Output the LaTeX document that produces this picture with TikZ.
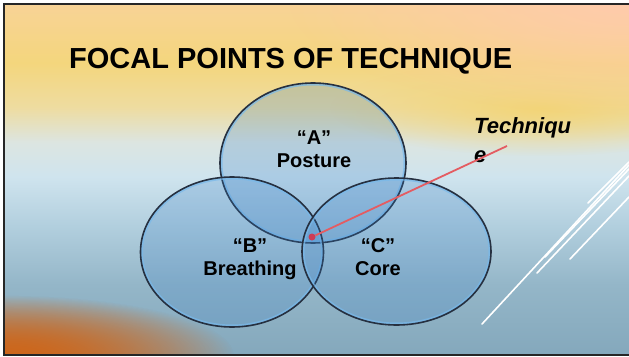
\documentclass[tikz,border=0pt]{standalone}
\usepackage{fontspec}
\setmainfont{Liberation Sans}
\usetikzlibrary{shapes.geometric,fadings}

\definecolor{bgTop}{RGB}{248,211,150}
\definecolor{bgA}{RGB}{244,214,125}
\definecolor{bgA2}{RGB}{238,220,160}
\definecolor{bgB}{RGB}{220,229,225}
\definecolor{bgC}{RGB}{207,228,238}
\definecolor{bgD}{RGB}{178,207,222}
\definecolor{bgE}{RGB}{148,182,200}
\definecolor{bgF}{RGB}{132,168,188}
\definecolor{peachc}{RGB}{255,203,172}
\definecolor{goldc}{RGB}{243,213,120}
\definecolor{rustc}{RGB}{205,103,28}
\definecolor{vennfill}{RGB}{60,130,200}
\definecolor{rimdark}{RGB}{38,48,64}
\definecolor{rimglowc}{RGB}{120,185,235}
\definecolor{pointerc}{RGB}{228,92,98}
\definecolor{dotc}{RGB}{205,60,85}

\pgfdeclareverticalshading{slidebg}{100bp}{color(0bp)=(bgF); color(25bp)=(bgF);
  color(35bp)=(bgE); color(43.4bp)=(bgD); color(50.4bp)=(bgC); color(55.3bp)=(bgB);
  color(60.3bp)=(bgA2); color(66.6bp)=(bgA); color(75bp)=(bgTop); color(100bp)=(bgTop)}
\tikzfading[name=softblob, inner color=transparent!0, outer color=transparent!100]

\begin{document}
\begin{tikzpicture}[
  x=1pt, y=-1pt,
  rimglow/.style   = {ellipse, draw=rimglowc, line width=5pt, draw opacity=.7,
                      fill=none, inner sep=0pt, path picture={}},
  venn/.style 2 args = {ellipse, draw=rimdark, line width=1.6pt, fill=vennfill,
                      fill opacity=.24, minimum width=#1, minimum height=#2, inner sep=0pt,
                      path picture={\node[rimglow, minimum width=#1, minimum height=#2]
                        at (path picture bounding box.center) {};}},
  title/.style     = {font=\bfseries\fontsize{29}{34}\selectfont, inner sep=0pt},
  lbl/.style       = {font=\bfseries\fontsize{20}{23}\selectfont, align=center, inner sep=0pt},
  callout/.style   = {font=\bfseries\itshape\fontsize{22}{29}\selectfont, align=left, inner sep=0pt},
  pointer/.style   = {draw=pointerc, line width=1.8pt},
  dot/.style       = {circle, fill=dotc, minimum size=7pt, inner sep=0pt},
  streak/.style    = {draw=white, line width=1.6pt, line cap=round},
  frame/.style     = {draw=black!85, line width=2pt},
]

% --- slide background ---------------------------------------------------
\useasboundingbox (0,0) rectangle (629,356);
\fill[white] (0,0) rectangle (629,356);
\shade[shading=slidebg] (4,4) rectangle (629,355);
\begin{scope}
  \clip (4,4) rectangle (629,355);
  \fill[goldc, path fading=softblob] (540,108) ellipse [x radius=210, y radius=48];
  \fill[peachc, path fading=softblob] (629,0) ellipse [x radius=340, y radius=115];
  \foreach \k in {1,2}
    \fill[rustc, path fading=softblob] (4,355) ellipse [x radius=230, y radius=60];
\end{scope}

% white streaks on the right
\foreach \xa/\ya/\yb in {482/324/165, 537/273/176, 545/257/169, 570/259/197, 588/203/162}
  \draw[streak] (\xa,\ya) -- (629,\yb);

\draw[frame] (629,4) -- (4,4) -- (4,355) -- (629,355);

% --- title ----------------------------------------------------------------
\node[title, anchor=base west] (title) at (69,68) {FOCAL POINTS OF TECHNIQUE};

% --- the three sets -------------------------------------------------------
\node[venn={186pt}{160pt}] (setA) at (313,163) {};
\node[venn={183pt}{150pt}] (setB) at (232,252) {};
\node[venn={189pt}{147pt}] (setC) at (396.5,251.5) {};

% (base = baseline of the last line)
\node[lbl, anchor=base] (labA) at (314,167) {“A”\\Posture};
\node[lbl, anchor=base] (labB) at (250,275.5) {“B”\\Breathing};
\node[lbl, anchor=base] (labC) at (378,275) {“C”\\Core};

% --- technique call-out ---------------------------------------------------
\node[callout, anchor=base west] (tech) at (474,162) {Techniqu\\e};
\coordinate (techEnd) at (507,146);
\node[dot] (focus) at (312,237) {};
\draw[pointer] (focus) -- (techEnd);

\end{tikzpicture}
\end{document}
